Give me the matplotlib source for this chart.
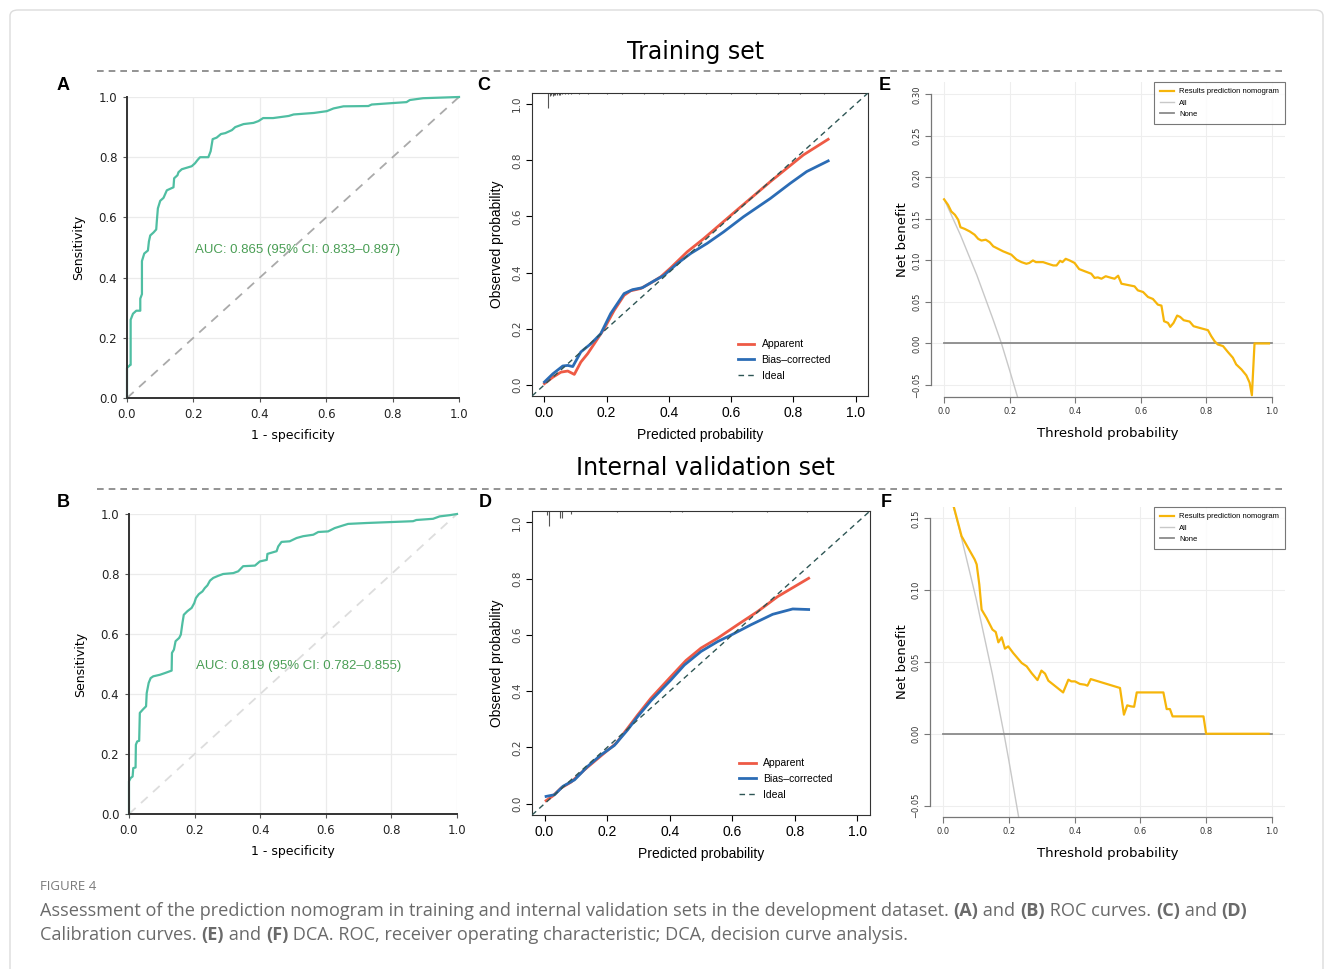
import matplotlib
matplotlib.use("Agg")
import matplotlib.pyplot as plt
from matplotlib.lines import Line2D
from matplotlib.patches import FancyBboxPatch

# ---------------- data ----------------
# ROC, training set (A)
roc_a_fpr = [0.0, 0.0, 0.005, 0.01, 0.011, 0.011, 0.018, 0.028, 0.04, 0.04, 0.045, 0.045, 0.052, 0.063, 0.066,
             0.07, 0.08, 0.088, 0.09, 0.093, 0.1, 0.11, 0.12, 0.14, 0.142, 0.152, 0.155, 0.165, 0.18, 0.195,
             0.205, 0.212, 0.22, 0.245, 0.252, 0.258, 0.27, 0.283, 0.296, 0.316, 0.326, 0.351, 0.381, 0.396,
             0.41, 0.44, 0.487, 0.502, 0.563, 0.602, 0.622, 0.652, 0.727, 0.737, 0.802, 0.842, 0.852, 0.892, 1.0]
roc_a_tpr = [0.0, 0.10, 0.105, 0.11, 0.11, 0.26, 0.28, 0.29, 0.29, 0.33, 0.345, 0.455, 0.48, 0.49, 0.52,
             0.54, 0.55, 0.56, 0.59, 0.63, 0.655, 0.665, 0.69, 0.70, 0.73, 0.74, 0.75, 0.76, 0.765, 0.77,
             0.78, 0.79, 0.80, 0.80, 0.82, 0.86, 0.865, 0.877, 0.88, 0.89, 0.90, 0.91, 0.914, 0.92,
             0.93, 0.93, 0.937, 0.942, 0.947, 0.953, 0.962, 0.969, 0.97, 0.975, 0.98, 0.983, 0.99, 0.996, 1.0]
auc_a = "AUC: 0.865 (95% CI: 0.833\u20130.897)"

# ROC, internal validation set (B)
roc_b_fpr = [0.0, 0.0, 0.005, 0.011, 0.013, 0.02, 0.021, 0.025, 0.031, 0.033, 0.042, 0.052, 0.054, 0.06, 0.066,
             0.074, 0.094, 0.11, 0.13, 0.131, 0.137, 0.142, 0.153, 0.158, 0.163, 0.167, 0.178, 0.191, 0.199,
             0.204, 0.213, 0.224, 0.231, 0.239, 0.247, 0.257, 0.272, 0.287, 0.318, 0.333, 0.348, 0.384, 0.399,
             0.42, 0.422, 0.45, 0.455, 0.465, 0.49, 0.511, 0.531, 0.562, 0.577, 0.607, 0.627, 0.653, 0.668,
             0.724, 0.866, 0.876, 0.927, 0.947, 0.977, 1.0]
roc_b_tpr = [0.0, 0.109, 0.12, 0.125, 0.153, 0.155, 0.231, 0.242, 0.244, 0.337, 0.348, 0.359, 0.403, 0.437, 0.453,
             0.459, 0.464, 0.47, 0.478, 0.537, 0.548, 0.576, 0.587, 0.598, 0.637, 0.664, 0.676, 0.687, 0.703,
             0.72, 0.733, 0.742, 0.753, 0.762, 0.778, 0.787, 0.794, 0.80, 0.803, 0.809, 0.826, 0.828, 0.842,
             0.847, 0.867, 0.876, 0.892, 0.907, 0.909, 0.92, 0.926, 0.931, 0.94, 0.942, 0.953, 0.962, 0.967,
             0.97, 0.976, 0.98, 0.984, 0.992, 0.996, 1.0]
auc_b = "AUC: 0.819 (95% CI: 0.782\u20130.855)"

# Calibration, training set (C)
cal_c_app_x = [0.0, 0.027, 0.053, 0.075, 0.096, 0.117, 0.139, 0.16, 0.192, 0.224, 0.256, 0.277, 0.309, 0.342,
               0.374, 0.406, 0.459, 0.512, 0.619, 0.726, 0.832, 0.912]
cal_c_app_y = [0.004, 0.027, 0.045, 0.049, 0.037, 0.081, 0.111, 0.146, 0.20, 0.265, 0.319, 0.335, 0.343, 0.363,
               0.385, 0.417, 0.474, 0.521, 0.623, 0.724, 0.819, 0.875]
cal_c_bc_x = [0.0, 0.027, 0.059, 0.075, 0.091, 0.117, 0.149, 0.181, 0.213, 0.256, 0.283, 0.315, 0.347, 0.384,
              0.427, 0.47, 0.523, 0.576, 0.64, 0.726, 0.79, 0.843, 0.912]
cal_c_bc_y = [0.01, 0.039, 0.067, 0.069, 0.065, 0.117, 0.146, 0.182, 0.254, 0.325, 0.339, 0.346, 0.367, 0.39,
              0.432, 0.468, 0.504, 0.545, 0.599, 0.664, 0.718, 0.76, 0.798]
rug_c_x = [0.011, 0.018, 0.022, 0.026, 0.03, 0.034, 0.04, 0.046, 0.05, 0.058, 0.066, 0.075, 0.085, 0.11,
           0.14, 0.2, 0.25, 0.32, 0.38, 0.45, 0.52, 0.6, 0.68, 0.75, 0.82, 0.9]
rug_c_len = [0.055, 0.012, 0.008, 0.01, 0.006, 0.008, 0.006, 0.008, 0.006, 0.005, 0.005, 0.004, 0.004, 0.004,
             0.003, 0.003, 0.003, 0.003, 0.003, 0.003, 0.003, 0.003, 0.003, 0.003, 0.003, 0.003]

# Calibration, internal validation set (D)
cal_d_app_x = [0.005, 0.027, 0.053, 0.085, 0.128, 0.191, 0.229, 0.266, 0.298, 0.34, 0.404, 0.452, 0.5,
               0.553, 0.617, 0.681, 0.745, 0.844]
cal_d_app_y = [0.011, 0.028, 0.056, 0.077, 0.121, 0.18, 0.215, 0.269, 0.316, 0.375, 0.452, 0.509, 0.553,
               0.588, 0.636, 0.683, 0.736, 0.801]
cal_d_bc_x = [0.005, 0.032, 0.059, 0.096, 0.138, 0.181, 0.223, 0.266, 0.298, 0.34, 0.404, 0.447, 0.5, 0.553,
              0.601, 0.66, 0.729, 0.793, 0.844]
cal_d_bc_y = [0.026, 0.032, 0.062, 0.085, 0.133, 0.174, 0.207, 0.263, 0.31, 0.366, 0.44, 0.493, 0.541, 0.576,
              0.602, 0.636, 0.673, 0.692, 0.69]
rug_d_x = [0.007, 0.014, 0.048, 0.055, 0.085, 0.23, 0.4, 0.44, 0.6, 0.71, 0.84]
rug_d_len = [0.014, 0.055, 0.026, 0.026, 0.01, 0.004, 0.004, 0.004, 0.004, 0.004, 0.004]

# Decision curves, training set (E)
dca_e_t = [0.0, 0.012, 0.022, 0.033, 0.043, 0.05, 0.063, 0.078, 0.093, 0.104, 0.114, 0.127, 0.139, 0.15,
           0.165, 0.18, 0.205, 0.221, 0.236, 0.251, 0.26, 0.271, 0.28, 0.302, 0.317, 0.333, 0.343, 0.354,
           0.361, 0.371, 0.383, 0.398, 0.412, 0.429, 0.449, 0.459, 0.469, 0.48, 0.493, 0.51, 0.52, 0.531,
           0.541, 0.556, 0.581, 0.591, 0.607, 0.622, 0.637, 0.652, 0.663, 0.671, 0.683, 0.69, 0.7, 0.711,
           0.72, 0.731, 0.749, 0.761, 0.779, 0.805, 0.815, 0.825, 0.835, 0.851, 0.866, 0.881, 0.891, 0.907,
           0.922, 0.932, 0.939, 0.947, 0.991]
dca_e_nb = [0.1736, 0.167, 0.159, 0.155, 0.149, 0.140, 0.138, 0.135, 0.131, 0.126, 0.124, 0.125, 0.122, 0.117,
            0.114, 0.111, 0.107, 0.101, 0.098, 0.096, 0.097, 0.100, 0.098, 0.098, 0.096, 0.094, 0.094, 0.0996,
            0.098, 0.102, 0.100, 0.097, 0.0896, 0.087, 0.084, 0.079, 0.0796, 0.078, 0.081, 0.079, 0.078, 0.0816,
            0.072, 0.0708, 0.0688, 0.064, 0.062, 0.056, 0.0536, 0.0468, 0.0456, 0.0268, 0.0248, 0.020, 0.0248,
            0.0336, 0.032, 0.028, 0.0264, 0.0208, 0.0188, 0.016, 0.0088, 0.0028, -0.0012, -0.0032, -0.0104,
            -0.0172, -0.0252, -0.0312, -0.0384, -0.0472, -0.0624, 0.0, 0.0]
dca_e_all_t = [0.0, 0.05, 0.1, 0.15, 0.175, 0.2, 0.225]
dca_e_all_nb = [0.174, 0.1305, 0.0822, 0.0282, 0.0, -0.0325, -0.0658]

# Decision curves, internal validation set (F)
dca_f_t = [0.0325, 0.056, 0.076, 0.096, 0.102, 0.11, 0.117, 0.132, 0.15, 0.16, 0.168, 0.178, 0.188, 0.198,
           0.213, 0.239, 0.254, 0.269, 0.287, 0.299, 0.31, 0.32, 0.365, 0.381, 0.39, 0.401, 0.416, 0.431,
           0.439, 0.449, 0.538, 0.55, 0.56, 0.571, 0.581, 0.589, 0.67, 0.68, 0.69, 0.698, 0.792, 0.80, 0.99]
dca_f_nb = [0.158, 0.1377, 0.1295, 0.1214, 0.118, 0.104, 0.0865, 0.0807, 0.0726, 0.0709, 0.0637, 0.0672, 0.0593,
            0.0609, 0.0563, 0.0493, 0.047, 0.0423, 0.0374, 0.044, 0.0419, 0.037, 0.0288, 0.0377, 0.0365, 0.0365,
            0.0347, 0.0342, 0.0335, 0.0381, 0.0319, 0.0133, 0.0198, 0.0191, 0.0188, 0.0288, 0.0288, 0.0172,
            0.0172, 0.0121, 0.0121, 0.0, 0.0]
dca_f_all_t = [0.0, 0.05, 0.1, 0.15, 0.185, 0.2, 0.23]
dca_f_all_nb = [0.185, 0.142, 0.0944, 0.0412, 0.0, -0.0188, -0.0584]

roc_ticks = [0.0, 0.2, 0.4, 0.6, 0.8, 1.0]
dca_e_yticks = [-0.05, 0.0, 0.05, 0.10, 0.15, 0.20, 0.25, 0.30]
dca_f_yticks = [-0.05, 0.0, 0.05, 0.10, 0.15]

# ---------------- styles ----------------
ROC_COLOR = "#4fbea2"
AUC_COLOR = "#4a9e55"
APP_COLOR = "#ee5a45"
BC_COLOR = "#2b6cb5"
IDEAL_COLOR = "#2e5655"
NB_COLOR = "#f6b50a"
R_FONT = ["Liberation Sans", "DejaVu Sans"]

W, H = 1333, 969
fig = plt.figure(figsize=(W / 100, H / 100), dpi=100)


def px_axes(x0, y0, x1, y1):
    return fig.add_axes([x0 / W, 1 - y1 / H, (x1 - x0) / W, (y1 - y0) / H])


def fig_text(x, y, s, **kw):
    return fig.text(x / W, 1 - y / H, s, **kw)


def roc_panel(ax, fpr, tpr, auc_text, diag_color):
    ax.set_xlim(0, 1)
    ax.set_ylim(0, 1)
    ax.grid(True, color="#ebebeb", lw=0.9)
    ax.set_axisbelow(True)
    ax.plot([0, 1], [0, 1], ls=(0, (5, 4)), color=diag_color, lw=1.3)
    ax.plot(fpr, tpr, color=ROC_COLOR, lw=1.6, clip_on=False)
    for side in ["top", "right"]:
        ax.spines[side].set_visible(False)
    for side in ["left", "bottom"]:
        ax.spines[side].set_color("#333333")
        ax.spines[side].set_linewidth(1.4)
    ax.set_xticks(roc_ticks)
    ax.set_yticks(roc_ticks)
    ax.tick_params(length=3, width=0.8, color="#555555", labelsize=8.5, labelcolor="#222222", pad=4)
    ax.set_xlabel("1 - specificity", fontsize=9, labelpad=6)
    ax.set_ylabel("Sensitivity", fontsize=9, labelpad=10)
    ax.text(0.205, 0.492, auc_text, color=AUC_COLOR, fontsize=9.5, va="center", family=R_FONT)


def cal_panel(ax, ax_x, ax_y, bc_x, bc_y, rug_x, rug_len):
    ax.set_xlim(-0.04, 1.04)
    ax.set_ylim(-0.04, 1.04)
    ax.plot([-0.04, 1.04], [-0.04, 1.04], ls=(0, (4, 3)), color=IDEAL_COLOR, lw=1.0, label="Ideal", zorder=3)
    ax.plot(ax_x, ax_y, color=APP_COLOR, lw=2.0, label="Apparent", zorder=2)
    ax.plot(bc_x, bc_y, color=BC_COLOR, lw=2.0, label="Bias\u2013corrected", zorder=2)
    for x, h in zip(rug_x, rug_len):
        ax.vlines(x, 1.04 - h, 1.04, color="#555555", lw=0.8)
    for side in ax.spines.values():
        side.set_linewidth(0.8)
        side.set_color("#333333")
    ax.set_xticks(roc_ticks)
    ax.set_yticks(roc_ticks)
    ax.tick_params(axis="x", length=4, labelsize=10, pad=3)
    ax.tick_params(axis="y", length=4, labelsize=7.5, labelcolor="#444444", pad=3)
    plt.setp(ax.get_yticklabels(), rotation=90, va="center")
    for lab in ax.get_xticklabels():
        lab.set_family(R_FONT)
    ax.set_xlabel("Predicted probability", fontsize=10, labelpad=6, family=R_FONT)
    ax.set_ylabel("Observed probability", fontsize=10, labelpad=6, family=R_FONT)
    h, l = ax.get_legend_handles_labels()
    order = [1, 2, 0]
    ax.legend([h[i] for i in order], [l[i] for i in order], loc="lower left",
              bbox_to_anchor=(0.612, 0.05), frameon=False, handlelength=1.6, handletextpad=0.7,
              labelspacing=0.55, borderpad=0, borderaxespad=0, prop={"family": R_FONT, "size": 7.5})


def dca_panel(ax, t, nb, all_t, all_nb, yticks, ylim):
    ax.set_xlim(-0.04, 1.04)
    ax.set_ylim(*ylim)
    ax.grid(True, color="#eeeeee", lw=0.8)
    ax.set_axisbelow(True)
    ax.plot(all_t, all_nb, color="#c8c8c8", lw=1.0, label="All")
    ax.plot([0, 1], [0, 0], color="#8a8a8a", lw=1.3, label="None")
    ax.plot(t, nb, color=NB_COLOR, lw=1.6, label="Results prediction nomogram")
    for side in ["top", "right"]:
        ax.spines[side].set_visible(False)
    for side in ["left", "bottom"]:
        ax.spines[side].set_color("#777777")
        ax.spines[side].set_linewidth(0.9)
    ax.spines["left"].set_bounds(yticks[0], yticks[-1])
    ax.spines["bottom"].set_bounds(0, 1)
    ax.set_xticks(roc_ticks)
    ax.set_yticks(yticks)
    ax.set_yticklabels(["%.2f" % v if v >= 0 else "\u22120.05" for v in yticks])
    ax.tick_params(length=4, color="#777777", labelsize=6, labelcolor="#333333", pad=3)
    plt.setp(ax.get_yticklabels(), rotation=90, va="center")
    ax.set_xlabel("Threshold probability", fontsize=9.5, labelpad=8)
    ax.set_ylabel("Net benefit", fontsize=9.5, labelpad=2)
    h, l = ax.get_legend_handles_labels()
    order = [2, 0, 1]
    leg = ax.legend([h[i] for i in order], [l[i] for i in order], loc="upper right",
                    bbox_to_anchor=(1.0, 1.0), borderaxespad=0, frameon=True, fancybox=False,
                    handlelength=1.8, handletextpad=0.7, labelspacing=0.5, borderpad=0.8,
                    prop={"family": R_FONT, "size": 5.5})
    leg.get_frame().set_edgecolor("#555555")
    leg.get_frame().set_linewidth(0.8)


# ---------------- panels ----------------
ax_a = px_axes(127, 97, 459, 398)
roc_panel(ax_a, roc_a_fpr, roc_a_tpr, auc_a, "#aaaaaa")
ax_b = px_axes(129, 514, 457, 814)
roc_panel(ax_b, roc_b_fpr, roc_b_tpr, auc_b, "#dddddd")

ax_c = px_axes(532, 93, 868, 396)
cal_panel(ax_c, cal_c_app_x, cal_c_app_y, cal_c_bc_x, cal_c_bc_y, rug_c_x, rug_c_len)
ax_d = px_axes(532, 511, 870, 815)
cal_panel(ax_d, cal_d_app_x, cal_d_app_y, cal_d_bc_x, cal_d_bc_y, rug_d_x, rug_d_len)

ax_e = px_axes(931, 82, 1285, 397)
dca_panel(ax_e, dca_e_t, dca_e_nb, dca_e_all_t, dca_e_all_nb, dca_e_yticks, (-0.0645, 0.315))
ax_f = px_axes(930, 507, 1285, 817)
dca_panel(ax_f, dca_f_t, dca_f_nb, dca_f_all_t, dca_f_all_nb, dca_f_yticks, (-0.058, 0.158))

# ---------------- figure decorations ----------------
fig.add_artist(FancyBboxPatch((10 / W, -0.02), 1313 / W, 1 - 10 / H + 0.02,
                              boxstyle="round,pad=0,rounding_size=0.006", transform=fig.transFigure,
                              facecolor="none", edgecolor="#dcdcdc", lw=1.0))

fig_text(696, 52, "Training set", fontsize=17, ha="center", va="center")
fig_text(705, 468, "Internal validation set", fontsize=17, ha="center", va="center")
for y in [71, 489]:
    fig.add_artist(Line2D([97 / W, 1285 / W], [1 - y / H] * 2, ls=(0, (4, 3)), color="#808080", lw=1.2))

for lab, x, y in [("A", 63, 86), ("C", 484, 86), ("E", 885, 86),
                  ("B", 63, 503), ("D", 485, 503), ("F", 886, 503)]:
    fig_text(x, y, lab, fontsize=13, fontweight="bold", ha="center", va="center", family=R_FONT)

# caption
fig_text(40, 887, "FIGURE 4", fontsize=9.5, color="#7a7a7a", va="center", family="Open Sans")
renderer = fig.canvas.get_renderer()


def rich_line(x, y, parts):
    for s, bold in parts:
        t = fig_text(x, y, s, fontsize=13.1, color="#6a6a6a", va="center", family="Open Sans",
                     fontweight="bold" if bold else "normal")
        x += t.get_window_extent(renderer).width


rich_line(40, 911, [("Assessment of the prediction nomogram in training and internal validation sets in the "
                     "development dataset. ", False), ("(A)", True), (" and ", False), ("(B)", True),
                    (" ROC curves. ", False), ("(C)", True), (" and ", False), ("(D)", True)])
rich_line(40, 935, [("Calibration curves. ", False), ("(E)", True), (" and ", False), ("(F)", True),
                    (" DCA. ROC, receiver operating characteristic; DCA, decision curve analysis.", False)])

fig.savefig("out.png", dpi=100)
